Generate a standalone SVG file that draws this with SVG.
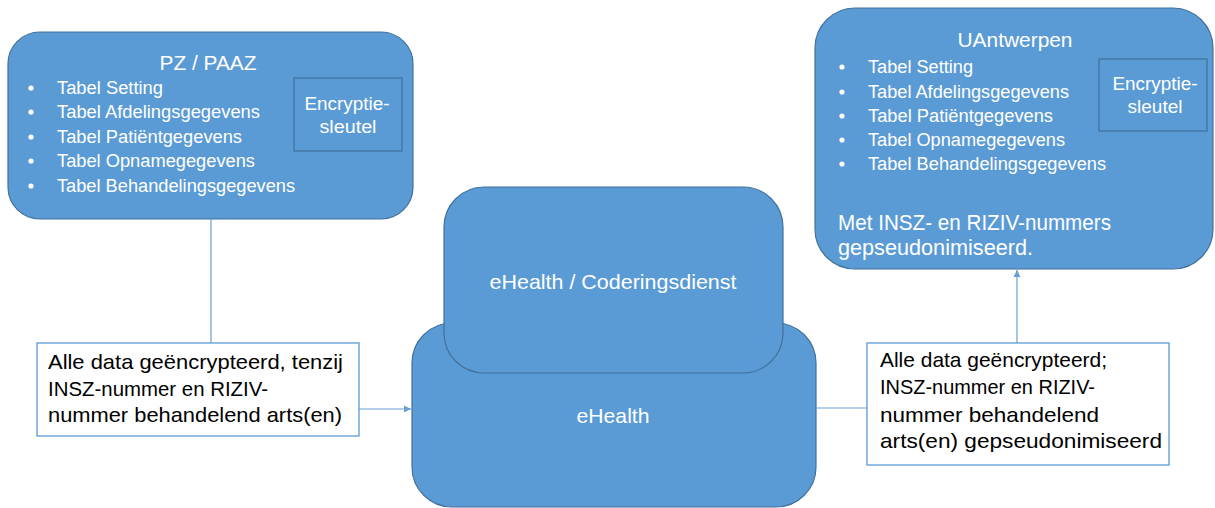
<svg xmlns="http://www.w3.org/2000/svg" width="1215" height="508" viewBox="0 0 1215 508">
<style>
.node{fill:#5B9BD5;stroke:#41719C;stroke-width:1.2}
.key{fill:none;stroke:#41719C;stroke-width:1.2}
.wt{fill:#FFFFFF;font-family:"Liberation Sans",Arial,sans-serif}
.bk{fill:#000000;font-family:"Liberation Sans",Arial,sans-serif;font-size:21px}
.lb{fill:#FFFFFF;stroke:#5B9BD5;stroke-width:1.3}
.con{stroke:#6A9FD4;stroke-width:1.2;fill:none}
.li{font-size:18px}
</style>
<defs>
<marker id="arr" viewBox="0 0 10 10" refX="10" refY="5" markerWidth="6" markerHeight="6" markerUnits="strokeWidth" orient="auto">
<path d="M0,0 L10,5 L0,10 z" fill="#6A9FD4"/>
</marker>
</defs>
<rect width="1215" height="508" fill="#FFFFFF"/>

<g id="pz">
<rect class="node" x="8" y="32" width="405" height="187" rx="32"/>
<text class="wt" x="208" y="70" font-size="20" text-anchor="middle" textLength="97" lengthAdjust="spacingAndGlyphs">PZ / PAAZ</text>
<g class="wt li">
<circle cx="31" cy="88" r="2.6" fill="#fff"/><text x="57" y="94" textLength="106" lengthAdjust="spacingAndGlyphs">Tabel Setting</text>
<circle cx="31" cy="112" r="2.6" fill="#fff"/><text x="57" y="118" textLength="203" lengthAdjust="spacingAndGlyphs">Tabel Afdelingsgegevens</text>
<circle cx="31" cy="137" r="2.6" fill="#fff"/><text x="57" y="143" textLength="185" lengthAdjust="spacingAndGlyphs">Tabel Patiëntgegevens</text>
<circle cx="31" cy="161" r="2.6" fill="#fff"/><text x="57" y="167" textLength="198" lengthAdjust="spacingAndGlyphs">Tabel Opnamegegevens</text>
<circle cx="31" cy="186" r="2.6" fill="#fff"/><text x="57" y="192" textLength="238" lengthAdjust="spacingAndGlyphs">Tabel Behandelingsgegevens</text>
</g>
<rect class="key" x="294" y="78" width="108" height="73"/>
<text class="wt li" x="347" y="110" text-anchor="middle" textLength="85" lengthAdjust="spacingAndGlyphs">Encryptie-</text>
<text class="wt li" x="348" y="133" text-anchor="middle" textLength="57" lengthAdjust="spacingAndGlyphs">sleutel</text>
</g>

<g id="uantwerpen">
<rect class="node" x="815" y="8" width="398" height="261" rx="40"/>
<text class="wt" x="1015" y="47" font-size="20" text-anchor="middle" textLength="115" lengthAdjust="spacingAndGlyphs">UAntwerpen</text>
<g class="wt li">
<circle cx="842" cy="67" r="2.6" fill="#fff"/><text x="868" y="73" textLength="105" lengthAdjust="spacingAndGlyphs">Tabel Setting</text>
<circle cx="842" cy="92" r="2.6" fill="#fff"/><text x="868" y="98" textLength="201" lengthAdjust="spacingAndGlyphs">Tabel Afdelingsgegevens</text>
<circle cx="842" cy="116" r="2.6" fill="#fff"/><text x="868" y="122" textLength="185" lengthAdjust="spacingAndGlyphs">Tabel Patiëntgegevens</text>
<circle cx="842" cy="140" r="2.6" fill="#fff"/><text x="868" y="146" textLength="197" lengthAdjust="spacingAndGlyphs">Tabel Opnamegegevens</text>
<circle cx="842" cy="164" r="2.6" fill="#fff"/><text x="868" y="170" textLength="238" lengthAdjust="spacingAndGlyphs">Tabel Behandelingsgegevens</text>
</g>
<rect class="key" x="1099" y="59" width="108" height="72"/>
<text class="wt li" x="1155" y="90" text-anchor="middle" textLength="85" lengthAdjust="spacingAndGlyphs">Encryptie-</text>
<text class="wt li" x="1155" y="113" text-anchor="middle" textLength="55" lengthAdjust="spacingAndGlyphs">sleutel</text>
<text class="wt" x="838" y="230" font-size="21.5" textLength="273" lengthAdjust="spacingAndGlyphs">Met INSZ- en RIZIV-nummers</text>
<text class="wt" x="838" y="255" font-size="21.5" textLength="195" lengthAdjust="spacingAndGlyphs">gepseudonimiseerd.</text>
</g>

<g id="ehealth">
<rect class="node" x="412" y="323" width="404" height="184" rx="40"/>
<text class="wt" x="613" y="423" font-size="21" text-anchor="middle" textLength="73" lengthAdjust="spacingAndGlyphs">eHealth</text>
</g>

<g id="coderingsdienst">
<rect class="node" x="444" y="187" width="339" height="186" rx="40"/>
<text class="wt" x="613" y="289" font-size="21" text-anchor="middle" textLength="247" lengthAdjust="spacingAndGlyphs">eHealth / Coderingsdienst</text>
</g>

<g id="connectors">
<line class="con" x1="211" y1="219" x2="211" y2="343"/>
<line class="con" x1="359" y1="409" x2="411" y2="409" marker-end="url(#arr)"/>
<line class="con" x1="816" y1="408" x2="867" y2="408"/>
<line class="con" x1="1017" y1="343" x2="1017" y2="270" marker-end="url(#arr)"/>
</g>

<g id="label-left">
<rect class="lb" x="37" y="343" width="322" height="93"/>
<text class="bk" x="48" y="369" textLength="295" lengthAdjust="spacingAndGlyphs">Alle data geëncrypteerd, tenzij</text>
<text class="bk" x="48" y="396" textLength="220" lengthAdjust="spacingAndGlyphs">INSZ-nummer en RIZIV-</text>
<text class="bk" x="48" y="422" textLength="294" lengthAdjust="spacingAndGlyphs">nummer behandelend arts(en)</text>
</g>

<g id="label-right">
<rect class="lb" x="867" y="343" width="302" height="122"/>
<text class="bk" x="880" y="367" textLength="227" lengthAdjust="spacingAndGlyphs">Alle data geëncrypteerd;</text>
<text class="bk" x="880" y="394" textLength="215" lengthAdjust="spacingAndGlyphs">INSZ-nummer en RIZIV-</text>
<text class="bk" x="880" y="422" textLength="219" lengthAdjust="spacingAndGlyphs">nummer behandelend</text>
<text class="bk" x="880" y="448" textLength="282" lengthAdjust="spacingAndGlyphs">arts(en) gepseudonimiseerd</text>
</g>
</svg>
